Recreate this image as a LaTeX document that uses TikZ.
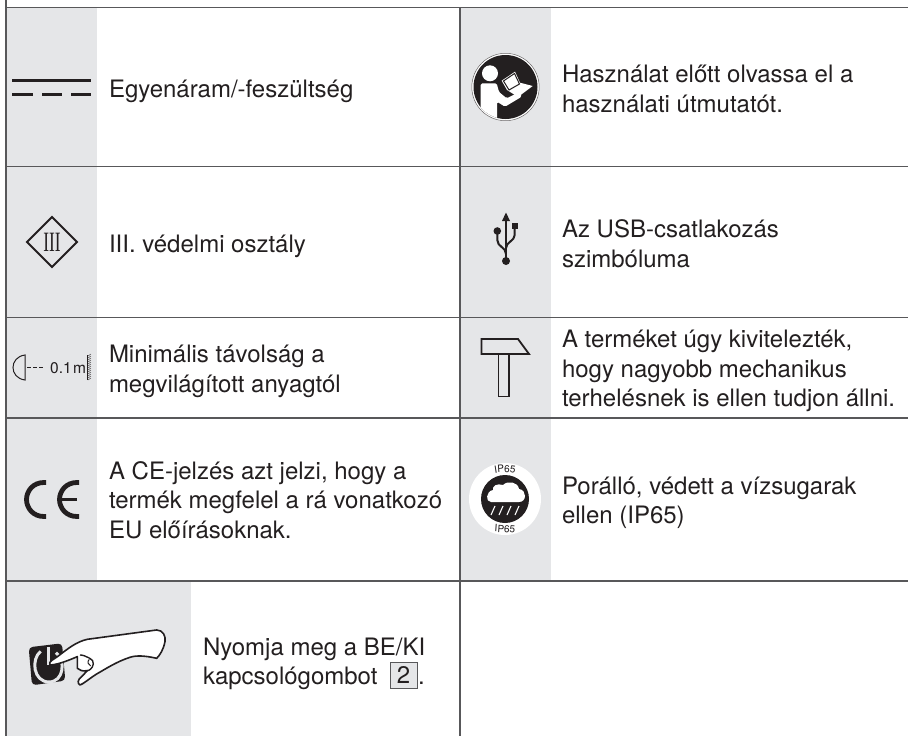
\documentclass[tikz,border=0pt]{standalone}
\usepackage{fontspec}
\setmainfont{TeX Gyre Heros}
\newfontfamily\serifsym{Liberation Serif}
\usetikzlibrary{decorations.text}
\definecolor{cellgrey}{HTML}{E5E6E8}
\definecolor{rulegrey}{HTML}{58585A}
\definecolor{ink}{HTML}{231F20}
\tikzset{
  x=1pt,y=-1pt,
  rulestyle/.style={draw=rulegrey,line width=1.7pt},
  cell/.style={anchor=base west,inner sep=0pt,outer sep=0pt,align=left,text=ink,font=\fontsize{24}{29.3}\selectfont},
}
\begin{document}
\begin{tikzpicture}
\useasboundingbox (0,0) rectangle (908,736);
\fill[white] (0,0) rectangle (908,736);
% grey cells
\fill[cellgrey] (7,8) rectangle (97,581);
\fill[cellgrey] (461,8) rectangle (551,581);
\fill[cellgrey] (7,581) rectangle (191,736);
% rules
\draw[rulestyle] (6,0) -- (6,736);
\draw[rulestyle] (460,7.5) -- (460,736);
\foreach \yy in {7.5,166.5,317.5,418,581}{\draw[rulestyle] (6,\yy) -- (908,\yy);}
% texts (anchored on the last line's baseline)
\node[cell] (t1) at (109,97) {Egyenáram/-feszültség};
\node[cell] (t2) at (562,112) {Használat előtt olvassa el a\\használati útmutatót.};
\node[cell] (t3) at (109,252) {III. védelmi osztály};
\node[cell] (t4) at (562,267) {Az USB-csatlakozás\\szimbóluma};
\node[cell] (t5) at (109,392) {Minimális távolság a\\megvilágított anyagtól};
\node[cell] (t6) at (562,406.5) {A terméket úgy kivitelezték,\\hogy nagyobb mechanikus\\terhelésnek is ellen tudjon állni.};
\node[cell] (t7) at (109,538) {A CE-jelzés azt jelzi, hogy a\\termék megfelel a rá vonatkozó\\EU előírásoknak.};
\node[cell] (t8) at (562,523.5) {Porálló, védett a vízsugarak\\ellen (IP65)};
\node[cell] (t9) at (203,655) {Nyomja meg a BE/KI};
\node[cell] (t10) at (203,684) {kapcsológombot};
\node[draw=rulegrey,fill=cellgrey,line width=.8pt,minimum width=27pt,minimum height=26pt,inner sep=0pt,text=ink,font=\fontsize{24}{26}\selectfont] (n2) at (403.5,675) {2};
\node[cell] (t11) at (418,684) {.};
% DC symbol
\draw[ink,line width=3pt] (12,80) -- (91,80);
\draw[ink,line width=3pt] (12,94.5) -- (33,94.5) (42,94.5) -- (62,94.5) (71,94.5) -- (91,94.5);
% class III
\draw[ink,line width=2pt,miter limit=10] (52,217) -- (77,242) -- (52,267) -- (27,242) -- cycle;
\node[inner sep=0pt,text=ink,xscale=.62,font=\serifsym\fontsize{28}{28}\selectfont] (three) at (52,242.5) {III};
% min distance
\draw[ink,line width=1pt] (25,355) .. controls (9,357) and (9,378) .. (25,380) -- cycle;
\draw[ink,line width=1pt] (27,367) -- (31,367) (33,367) -- (37,367) (39,367) -- (43,367);
\node[anchor=base west,inner sep=0pt,text=ink,font=\fontsize{15.5}{16}\selectfont] (dist) at (50,373) {0.1\kern1.5pt m};
\draw[ink,line width=.8pt] (87.5,355) -- (87.5,380);
\foreach \yy in {356,358,...,380}{\draw[ink,line width=.4pt] (88,\yy) -- (91,\yy-2);}
% CE
\draw[ink,line width=4.8pt] (46,482.5) -- (44,482.5) .. controls (33,482.5) and (26.5,491) .. (26.5,499.5) .. controls (26.5,508) and (33,516.5) .. (44,516.5) -- (46,516.5);
\draw[ink,line width=4.8pt] (79,482.5) -- (77,482.5) .. controls (66,482.5) and (59.5,491) .. (59.5,499.5) .. controls (59.5,508) and (66,516.5) .. (77,516.5) -- (79,516.5);
\draw[ink,line width=3.8pt] (60,499.5) -- (77,499.5);
% hand and button
\begin{scope}[shift={(0,400)},x=0.3333pt,y=-0.3333pt]
\fill[ink,rounded corners=4pt] (86,742) -- (186,730) -- (196,842) -- (96,856) -- cycle;
\draw[cellgrey,line width=3pt] (122,754) .. controls (92,778) and (100,846) .. (147,846) .. controls (192,846) and (198,780) .. (168,758);
\draw[cellgrey,line width=3pt] (147,742) -- (147,795);
\draw[fill=white,draw=ink,line width=1.6pt,line join=round] (150,795) .. controls (145,783) and (160,780) .. (175,768) .. controls (205,745) and (230,725) .. (262,718) -- (470,690) .. controls (490,690) and (498,710) .. (495,725) .. controls (490,750) and (480,765) .. (470,775) .. controls (440,768) and (410,765) .. (390,772) .. controls (350,785) and (320,805) .. (290,822) .. controls (265,838) and (250,852) .. (240,855) .. controls (232,850) and (232,840) .. (245,830) -- (262,812) .. controls (245,815) and (240,810) .. (232,805) -- (232,770) .. controls (220,775) and (175,795) .. (150,795) -- cycle;
\draw[ink,line width=1.4pt] (240,765) .. controls (255,765) and (285,780) .. (280,792) .. controls (278,805) and (268,812) .. (262,812);
\draw[ink,line width=1pt] (268,778) .. controls (260,785) and (265,795) .. (272,798);
\end{scope}
% book symbol
\fill[white] (505.5,87) circle (34);
\draw[ink!70,line width=.5pt] (505.5,87) circle (33.7);
\fill[ink] (505.5,87) circle (32);
\begin{scope}
\clip (505.5,87) circle (32);
\fill[white] (490,73.3) circle (8);
\fill[white,rounded corners=1.5pt] (480.7,83.3) -- (496.7,83.3) -- (499,92) -- (506.7,98.3) -- (520,91.7) -- (521.7,96.7) -- (505,106.7) -- (497,101.7) -- (497,122) -- (480.7,112) -- cycle;
\fill[white] (501.7,80.7) -- (515,71.7) -- (520,82.7) -- (532.7,86) -- (518,97) -- (507,90) -- cycle;
\draw[ink,line width=1pt] (503.5,81) -- (514.5,73.5) -- (519.5,84) -- (509,90) -- cycle;
\end{scope}
% USB
\draw[ink,line width=2pt] (506,217) -- (506,261);
\fill[ink] (506,212.5) -- (510,221) -- (502,221) -- cycle;
\fill[ink] (506,261) circle (4);
\fill[ink] (497.3,231) circle (3.8);
\fill[ink] (511.7,222.7) rectangle (517.7,228.7);
\draw[ink,line width=2pt] (497.3,231) -- (497.3,240) .. controls (497.3,247) and (506,247) .. (506,254);
\draw[ink,line width=2pt] (514.7,228) -- (514.7,235) .. controls (514.7,241) and (506,242) .. (506,248);
% hammer
\draw[ink,line width=1.8pt,line join=miter] (481.5,339) -- (518,339) -- (529,354) -- (481.5,354) -- cycle;
\draw[ink,line width=1.8pt] (498.5,354) -- (498.5,396.5) -- (509,396.5) -- (509,354);
% IP65
\fill[white] (505,499) circle (36);
\fill[ink] (505,499) circle (24);
\fill[white] (491,502) -- (519,502) .. controls (527,502) and (527,490) .. (519,489) .. controls (518,482) and (508,480) .. (503,485) .. controls (497,483) and (492,486) .. (493,490) .. controls (486,491) and (485,502) .. (491,502) -- cycle;
\draw[white,line width=1.1pt] (495,506) -- (491,515) (503,506) -- (499,515) (511,506) -- (507,515) (519,506) -- (515,515);
\path[postaction={decorate,decoration={text along path,text align=center,text={|\fontsize{10}{10}\selectfont\color{ink}|IP65}}}] (485,476) .. controls (497,471) and (513,471) .. (525,476);
\node[inner sep=0pt,text=ink,rotate=-4,font=\fontsize{10}{10}\selectfont] (ipb) at (505,529) {IP65};
\end{tikzpicture}
\end{document}
